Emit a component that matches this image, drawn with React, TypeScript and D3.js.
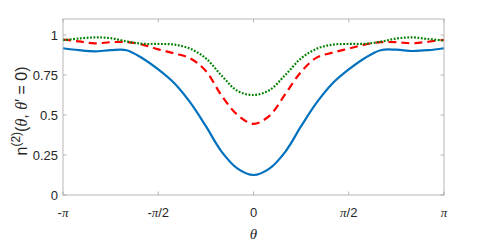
import * as d3 from "d3";

// theta grid in units of pi/12, from -pi to pi
const thetaSteps = [-12, -11, -10, -9, -8, -7, -6, -5, -4, -3, -2, -1, 0, 1, 2, 3, 4, 5, 6, 7, 8, 9, 10, 11, 12];

const blueSolid = [0.917, 0.905, 0.898, 0.905, 0.905, 0.855, 0.785, 0.7, 0.58, 0.43, 0.27, 0.165, 0.125, 0.165, 0.27, 0.43, 0.58, 0.7, 0.785, 0.855, 0.905, 0.908, 0.9, 0.905, 0.917];
const redDashed = [0.972, 0.96, 0.948, 0.955, 0.956, 0.94, 0.91, 0.885, 0.855, 0.775, 0.62, 0.5, 0.445, 0.495, 0.63, 0.77, 0.86, 0.89, 0.915, 0.94, 0.955, 0.955, 0.948, 0.958, 0.97];
const greenDotted = [0.968, 0.978, 0.985, 0.98, 0.96, 0.945, 0.944, 0.94, 0.915, 0.854, 0.745, 0.65, 0.625, 0.655, 0.75, 0.854, 0.915, 0.94, 0.944, 0.945, 0.958, 0.978, 0.985, 0.975, 0.965];

const xTickSteps = [-12, -6, 0, 6, 12];
const xTickLabels = [["-", "π", ""], ["-", "π", "/2"], ["0", "", ""], ["", "π", "/2"], ["", "π", ""]];
const yTicks = [0, 0.25, 0.5, 0.75, 1];

const series = [
  { values: blueSolid, color: "#0072BD", dash: "none" },
  { values: redDashed, color: "#FF0000", dash: "8 5" },
  { values: greenDotted, color: "#008000", dash: "1.8 1.6" },
];

const left = 63;
const right = 444;
const top = 19;
const bottom = 195;
const sans = "'Liberation Sans', Arial, Helvetica, sans-serif";
const serif = "'Liberation Serif', 'Times New Roman', serif";
const axisColor = "#a6a6a6";
const textColor = "#262626";

export default function App() {
  const x = d3.scaleLinear().domain([-Math.PI, Math.PI]).range([left, right]);
  const y = d3.scaleLinear().domain([0, 1.1]).range([bottom, top]);

  const line = d3
    .line<number>()
    .x((_, i) => x((thetaSteps[i] * Math.PI) / 12))
    .y((d) => y(d))
    .curve(d3.curveCatmullRom.alpha(0.5));

  return (
    <svg width={491} height={245} style={{ position: "absolute", left: 0, top: 0 }}>
      <rect width={491} height={245} fill="white" />
      {series.map((s, i) => (
        <path
          key={i}
          d={line(s.values) || ""}
          fill="none"
          stroke={s.color}
          strokeWidth={2.2}
          strokeDasharray={s.dash}
        />
      ))}
      {/* box */}
      <rect x={left} y={top} width={right - left} height={bottom - top} fill="none" stroke={axisColor} strokeWidth={0.8} />
      {xTickSteps.map((k, i) => {
        const px = x((k * Math.PI) / 12);
        const [pre, pi, post] = xTickLabels[i];
        return (
          <g key={i}>
            <line x1={px} x2={px} y1={bottom} y2={bottom - 3.5} stroke={axisColor} strokeWidth={0.8} />
            <line x1={px} x2={px} y1={top} y2={top + 3.5} stroke={axisColor} strokeWidth={0.8} />
            <text x={px} y={217} textAnchor="middle" fontSize={13} fontFamily={sans} fill={textColor}>
              {pre}
              {pi && <tspan fontFamily={serif} fontStyle="italic">{pi}</tspan>}
              {post}
            </text>
          </g>
        );
      })}
      {yTicks.map((t, i) => (
        <g key={i}>
          <line x1={left} x2={left + 3.5} y1={y(t)} y2={y(t)} stroke={axisColor} strokeWidth={0.8} />
          <line x1={right} x2={right - 3.5} y1={y(t)} y2={y(t)} stroke={axisColor} strokeWidth={0.8} />
          <text x={58} y={y(t) + 4.5} textAnchor="end" fontSize={13} fontFamily={sans} fill={textColor}>
            {String(t)}
          </text>
        </g>
      ))}
      <text x={x(0)} y={239} textAnchor="middle" fontSize={15} fontFamily={serif} fontStyle="italic" fill={textColor}>
        θ
      </text>
      <text
        transform={`translate(27,${(top + bottom) / 2 + 4}) rotate(-90)`}
        textAnchor="middle"
        fontSize={16}
        fontFamily={sans}
        fill={textColor}
      >
        n
        <tspan dy={-7} fontSize={12}>(2)</tspan>
        <tspan dy={7}>(</tspan>
        <tspan fontFamily={serif} fontStyle="italic">θ</tspan>
        <tspan>, </tspan>
        <tspan fontFamily={serif} fontStyle="italic">θ</tspan>
        <tspan>′ = 0)</tspan>
      </text>
    </svg>
  );
}
